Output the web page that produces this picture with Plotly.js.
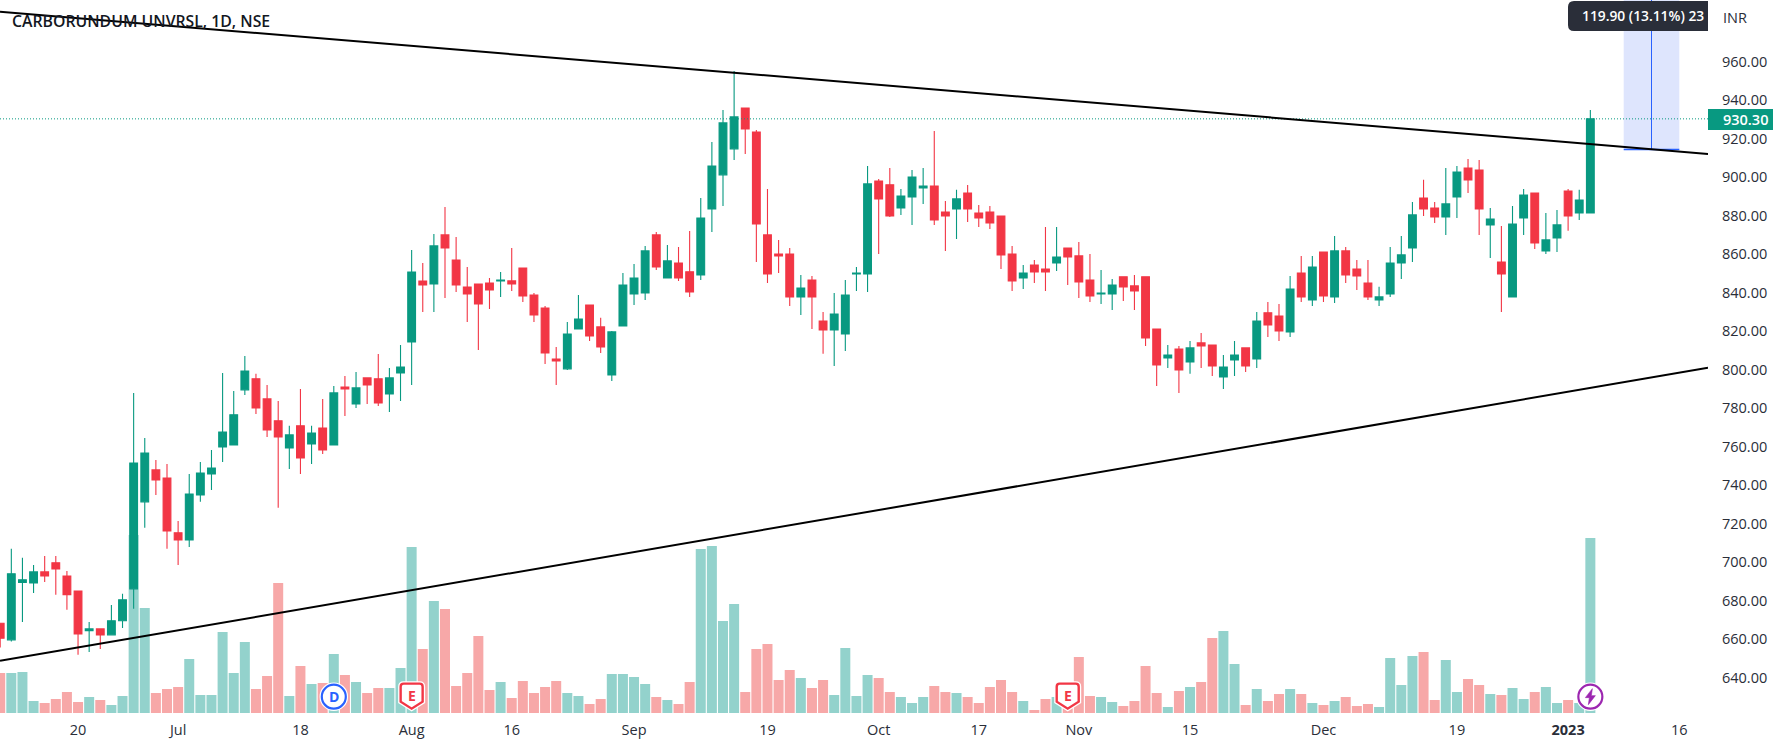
<!DOCTYPE html>
<html><head><meta charset="utf-8">
<script src="https://cdn.plot.ly/plotly-3.0.1.min.js"></script>
<style>html,body{margin:0;padding:0;background:#fff}#c{width:1788px;height:748px}</style>
</head><body><div id="c"></div>
<script>
const opens=[668.2,659.6,689.4,689.2,694.9,699.6,692.8,685.0,664.3,665.3,662.2,669.5,
686.1,731.3,747.9,743.7,715.2,711.5,734.9,745.8,759.8,760.9,789.5,795.2,
784.8,773.4,759.3,770.8,761.4,769.7,760.9,791.0,782.2,795.7,795.2,787.4,
798.3,814.4,846.0,844.5,870.0,857.0,842.9,844.5,845.0,846.1,846.1,852.8,
838.8,832.0,805.5,800.4,821.1,833.6,822.2,797.2,822.7,839.3,839.8,870.0,
847.6,855.4,850.8,849.2,883.5,901.2,914.7,935.9,923.5,870.0,860.1,860.1,
837.8,846.6,825.3,820.6,818.5,849.7,849.7,898.0,896.0,884.0,889.7,894.4,
895.4,881.9,883.5,891.8,881.4,881.9,879.8,860.1,847.6,854.4,852.3,855.4,
863.2,859.1,846.6,839.3,839.3,848.2,843.5,848.2,821.1,806.1,810.7,804.0,
813.9,812.8,796.2,805.0,811.3,805.5,829.5,827.9,819.6,850.2,836.2,861.1,
837.8,861.7,852.3,845.0,836.2,839.3,855.4,863.2,889.2,884.0,879.3,889.7,
904.8,903.7,875.2,855.9,837.8,878.8,891.8,861.7,868.4,892.8,881.4,881.4];
const highs=[668.2,706.9,702.2,698.5,703.2,703.2,695.4,685.0,668.9,665.3,677.7,683.5,
787.9,764.5,753.1,751.0,721.4,745.8,752.0,758.3,798.3,788.9,807.1,797.8,
792.0,783.7,770.8,790.0,770.8,784.8,791.5,796.7,798.8,795.7,808.1,800.9,
812.8,862.2,855.4,870.5,884.5,868.9,853.3,844.5,847.6,850.7,863.2,852.8,
839.8,833.0,811.8,824.8,838.8,833.6,826.9,820.1,850.2,854.9,864.3,871.5,
864.8,863.7,872.0,889.2,918.3,934.9,955.2,935.9,924.5,893.9,867.4,863.2,
849.2,848.7,830.0,839.8,846.6,853.3,905.8,899.1,904.8,893.9,903.7,904.8,
924.0,887.6,893.4,895.9,885.6,885.0,879.8,864.3,854.4,857.0,874.1,874.1,
863.2,866.3,860.1,851.8,847.1,848.2,849.2,848.2,821.1,812.8,812.3,814.9,
819.0,812.8,807.6,814.9,811.3,830.0,835.2,834.1,848.7,859.1,859.1,861.1,
869.4,863.7,857.0,857.0,843.0,863.7,869.4,887.1,898.6,887.1,904.8,905.8,
909.4,908.9,884.0,874.6,885.0,893.9,891.8,881.4,882.9,893.9,893.4,934.9];
const lows=[655.6,658.7,668.9,684.0,689.7,683.0,675.2,651.8,653.3,654.9,662.2,665.8,
675.7,717.8,734.9,706.9,698.5,707.9,731.3,737.5,752.0,760.9,786.8,777.0,
765.0,728.2,748.4,745.8,751.0,756.2,760.9,775.9,780.1,782.2,781.1,778.0,
783.7,792.0,829.9,829.9,837.2,840.4,824.8,810.2,831.5,837.8,840.9,835.2,
824.8,802.9,792.0,799.8,821.1,814.9,808.7,794.1,822.7,833.6,836.2,851.8,
847.6,846.1,837.8,846.6,871.5,885.0,908.9,912.1,855.9,845.0,850.2,833.1,
828.4,821.1,808.2,801.9,809.7,840.9,840.4,860.1,879.3,880.4,875.2,886.1,
875.2,861.7,867.9,876.7,874.1,873.1,852.3,840.9,841.9,845.0,840.9,851.3,
844.0,837.2,835.2,834.1,831.0,835.7,831.0,812.3,791.5,800.9,787.9,797.8,
800.9,796.7,790.0,796.7,798.8,800.9,817.0,814.9,817.0,835.2,833.1,835.2,
834.6,845.0,841.4,836.2,833.1,837.8,847.1,855.9,879.8,876.2,870.0,878.8,
891.8,870.0,858.0,830.0,837.8,870.0,862.7,860.1,861.1,872.1,877.8,881.4];
const closes=[660.4,693.9,690.8,694.9,692.8,696.5,683.0,662.7,665.3,662.2,669.5,680.4,
751.5,756.7,742.7,716.2,711.5,735.4,746.3,748.9,767.6,776.5,799.3,780.1,
768.7,765.0,766.1,754.1,767.1,758.3,787.9,790.0,790.5,792.0,782.7,795.7,
801.4,850.7,844.0,864.3,863.2,844.0,839.3,834.1,841.4,846.6,844.5,838.3,
828.4,808.7,804.5,818.5,826.3,817.5,811.8,819.6,844.0,847.6,861.7,853.3,
856.5,847.6,840.4,878.8,905.8,928.2,931.3,925.0,875.7,849.7,859.1,837.8,
842.4,837.8,820.6,828.9,838.8,850.2,896.5,888.7,879.8,890.2,900.1,895.4,
877.8,879.8,888.7,883.5,878.8,876.2,859.6,846.1,850.2,850.8,850.8,858.5,
858.5,845.6,838.3,839.8,844.0,843.0,840.9,816.5,802.4,807.6,799.8,811.3,
812.3,801.9,801.4,807.6,801.9,825.3,823.2,820.1,841.9,837.8,853.3,838.3,
861.7,849.2,848.7,837.8,837.8,855.4,859.6,880.4,883.5,879.3,886.1,902.7,
898.6,883.5,878.3,849.7,875.7,890.7,865.8,867.4,875.2,879.8,888.1,930.3];
const volumes=[40,40,41,12,10,14,21,11,16,13,8,17,
178,105,20,24,26,54,18,18,81,40,71,24,
37,130,17,47,29,30,59,38,31,20,25,25,
45,166,64,112,104,27,40,77,23,31,15,32,
20,26,32,20,17,9,14,39,39,36,29,16,
13,9,31,164,167,92,109,21,64,69,33,43,
35,25,33,18,65,17,38,35,21,16,10,16,
27,21,20,16,10,26,33,21,12,3,14,16,
16,56,17,16,11,7,12,47,20,6,22,26,
31,75,82,49,8,24,12,19,24,19,10,8,
12,16,7,9,6,55,28,57,61,13,53,21,
34,28,19,18,25,14,21,26,10,13,10,175];
const tickIndex=[7,16,27,37,46,57,69,79,88,97,107,119,131,141,151];
const tickLabels=['20','Jul','18','Aug','16','Sep','19','Oct','17','Nov','15','Dec','19','<b>2023</b>','16'];
const priceTicks=[640,660,680,700,720,740,760,780,800,820,840,860,880,900,920,940,960];
const upperTrendX=[-0.018,153.58], upperTrendY=[986,912.1];
const lowerTrendX=[-0.018,153.58], lowerTrendY=[648.7,801];
const lastPrice=930.3;
const measureStartPrice=914.4, measureChange=119.9;
const measureX=[146,148.5,151];

const GREEN='#089981',RED='#F23645',VUP='#93D2CC',VDN='#F7A8A8',BLUE='#2962FF',PURPLE='#9C27B0',INK='#131722';
const FONT='"Open Sans", "Noto Sans", sans-serif';
const idx=opens.map((_,i)=>i);
const xr=[-0.018,153.58], yr=[621.6,992.05];
const W=1708,H=713;
const px=v=>v/W, py=v=>1-v/H;
const markerY=630.1;

const traces=[
 {type:'bar',x:idx,y:volumes,xaxis:'x',yaxis:'y',marker:{color:idx.map(i=>closes[i]>=opens[i]?VUP:VDN),line:{width:0}},hoverinfo:'skip',showlegend:false},
 {type:'candlestick',x:idx,open:opens,high:highs,low:lows,close:closes,xaxis:'x',yaxis:'y2',whiskerwidth:0,
  increasing:{line:{color:GREEN,width:1.1},fillcolor:GREEN},decreasing:{line:{color:RED,width:1.1},fillcolor:RED},showlegend:false},
 {type:'scatter',mode:'lines',x:xr,y:[lastPrice,lastPrice],xaxis:'x',yaxis:'y2',line:{color:GREEN,width:1,dash:'1px,2px'},showlegend:false,hoverinfo:'skip'},
 {type:'scatter',mode:'lines',x:[measureX[0],measureX[2]],y:[measureStartPrice,measureStartPrice],xaxis:'x',yaxis:'y2',line:{color:BLUE,width:1.4},showlegend:false,hoverinfo:'skip'},
 {type:'scatter',mode:'lines',x:[measureX[1],measureX[1]],y:[measureStartPrice,measureStartPrice+measureChange],xaxis:'x',yaxis:'y2',line:{color:BLUE,width:1},showlegend:false,hoverinfo:'skip'},
 {type:'scatter',mode:'lines',x:upperTrendX,y:upperTrendY,xaxis:'x',yaxis:'y2',line:{color:'#000',width:2},showlegend:false,hoverinfo:'skip'},
 {type:'scatter',mode:'lines',x:lowerTrendX,y:lowerTrendY,xaxis:'x',yaxis:'y2',line:{color:'#000',width:2},showlegend:false,hoverinfo:'skip'}
];
function pix(anchor,path,line,fill,w){return {type:'path',layer:'above',xref:'x',yref:'y2',xsizemode:'pixel',ysizemode:'pixel',xanchor:anchor,yanchor:markerY,path:path,line:{color:line,width:w},fillcolor:fill};}
function ring(anchor,r,line,w){return {type:'circle',layer:'above',xref:'x',yref:'y2',xsizemode:'pixel',ysizemode:'pixel',xanchor:anchor,yanchor:markerY,x0:-r,x1:r,y0:-r,y1:r,line:{color:line,width:w},fillcolor:'#fff'};}
const SHIELD='M -11 10 Q -11 13 -8 13 L 8 13 Q 11 13 11 10 L 11 -5 L 0 -12 L -11 -5 Z';
const BOLT='M 2 8 L -5 -1 L -1 -1 L -2 -8 L 5 1 L 1 1 Z';
const shapes=[
 {type:'rect',layer:'below',xref:'x',yref:'y2',x0:measureX[0],x1:measureX[2],y0:measureStartPrice,y1:measureStartPrice+measureChange,fillcolor:'#DEE5FD',line:{width:0}},
 ring(30,13,'#fff',2.5),ring(30,12,BLUE,2.2),
 pix(37,SHIELD,'#fff','#fff',5),pix(37,SHIELD,RED,'#fff',2.4),
 pix(96,SHIELD,'#fff','#fff',5),pix(96,SHIELD,RED,'#fff',2.4),
 ring(143,13,'#fff',2.5),ring(143,12,PURPLE,2.2),
 pix(143,BOLT,PURPLE,PURPLE,0.6),
 {type:'path',layer:'above',xref:'paper',yref:'paper',
  path:`M ${px(1708)} ${py(1)} L ${px(1574)} ${py(1)} Q ${px(1568)} ${py(1)} ${px(1568)} ${py(7)} L ${px(1568)} ${py(25)} Q ${px(1568)} ${py(31)} ${px(1574)} ${py(31)} L ${px(1708)} ${py(31)} Z`,
  fillcolor:'#2A2E39',line:{width:0}},
 {type:'rect',layer:'above',xref:'paper',yref:'paper',x0:1,x1:px(1773),y0:py(109),y1:py(130),fillcolor:GREEN,line:{width:0}}
];
const annotations=[
 {xref:'paper',yref:'paper',x:px(10),y:py(21),xanchor:'left',yanchor:'middle',showarrow:false,text:'CARBORUNDUM UNVRSL, 1D, NSE',font:{family:FONT,size:15.8,color:INK,weight:600}},
 {xref:'paper',yref:'paper',x:px(1580),y:py(15.5),xanchor:'left',yanchor:'middle',showarrow:false,text:'119.90 (13.11%) 23',font:{family:FONT,size:13.8,color:'#fff',weight:600}},
 {xref:'paper',yref:'paper',x:px(1721),y:py(17),xanchor:'left',yanchor:'middle',showarrow:false,text:'INR',font:{family:FONT,size:14.5,color:'#2A2E39'}},
 {xref:'paper',yref:'paper',x:px(1721),y:py(119.5),xanchor:'left',yanchor:'middle',showarrow:false,text:'930.30',font:{family:FONT,size:14.5,color:'#fff',weight:600}},
 {xref:'x',yref:'y2',x:30,y:markerY,showarrow:false,text:'<b>D</b>',font:{family:FONT,size:14,color:BLUE}},
 {xref:'x',yref:'y2',x:37,y:markerY,yshift:1,showarrow:false,text:'<b>E</b>',font:{family:FONT,size:14,color:RED}},
 {xref:'x',yref:'y2',x:96,y:markerY,yshift:1,showarrow:false,text:'<b>E</b>',font:{family:FONT,size:14,color:RED}}
];
const layout={
 width:1788,height:748,paper_bgcolor:'#fff',plot_bgcolor:'#fff',showlegend:false,
 margin:{l:0,r:80,t:0,b:35,pad:0},bargap:0.1,boxgap:0.3,boxgroupgap:0,
 xaxis:{type:'linear',range:xr,tickmode:'array',tickvals:tickIndex,ticktext:tickLabels,showgrid:false,zeroline:false,showline:false,ticks:'',
  rangeslider:{visible:false},tickfont:{family:FONT,size:14.5,color:'#2A2E39'},ticklabelstandoff:6,automargin:false},
 yaxis:{range:[0,H],visible:false,fixedrange:true},
 yaxis2:{overlaying:'y',side:'right',anchor:'x',range:yr,tickmode:'array',tickvals:priceTicks,tickformat:'.2f',showgrid:false,zeroline:false,showline:false,ticks:'',
  tickfont:{family:FONT,size:14.5,color:'#2A2E39'},ticklabelstandoff:13,automargin:false},
 shapes,annotations
};
Plotly.newPlot('c',traces,layout,{displayModeBar:false,staticPlot:true});
</script></body></html>
